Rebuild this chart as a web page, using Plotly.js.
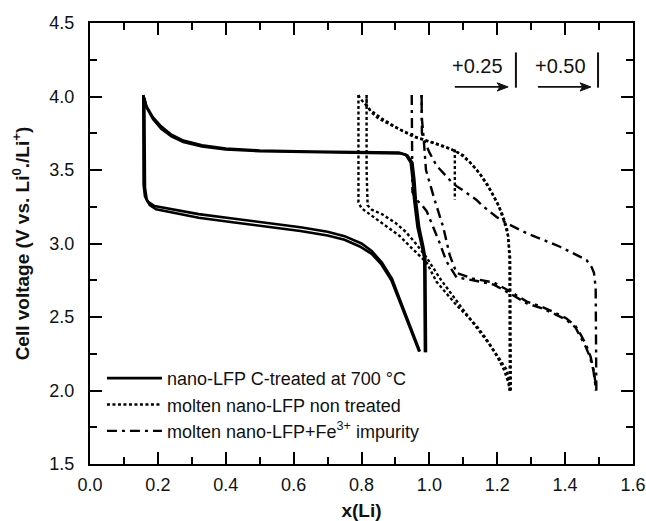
<!DOCTYPE html>
<html>
<head>
<meta charset="utf-8">
<script src="https://cdn.plot.ly/plotly-3.0.1.min.js"></script>
<style>html,body{margin:0;padding:0;background:#fff;}#chart{width:646px;height:521px;}</style>
</head>
<body>
<div id="chart"></div>
<script>
// ---- Data ----
// nano-LFP C-treated at 700 °C : two cycles (discharge / charge), segments split by null
var lfpX = [0.157,0.157,0.158,0.162,0.170,0.190,0.250,0.320,0.420,0.520,0.620,0.700,0.750,0.800,0.830,0.860,0.890,0.913,0.935,0.953,0.965,0.972,
            null,
            0.987,0.987,0.985,0.978,0.965,0.955,0.951,0.945,0.930,0.910,0.800,0.650,0.500,0.400,0.330,0.275,0.240,0.210,0.185,0.165,0.157,
            null,
            0.160,0.160,0.162,0.167,0.176,0.195,0.250,0.320,0.420,0.520,0.620,0.700,0.750,0.795,0.830,0.858,0.888,0.910,0.932,0.950,0.962,0.970,
            null,
            0.990,0.990,0.988,0.982,0.970,0.960,0.956,0.950,0.935,0.915,0.800,0.650,0.500,0.400,0.330,0.275,0.240,0.210,0.186,0.167,0.160];
var lfpY = [4.01,3.60,3.40,3.32,3.285,3.255,3.23,3.20,3.17,3.14,3.11,3.08,3.05,3.00,2.95,2.87,2.76,2.62,2.49,2.37,2.30,2.265,
            null,
            2.26,2.80,2.90,2.98,3.11,3.30,3.43,3.55,3.605,3.618,3.620,3.626,3.633,3.646,3.668,3.700,3.740,3.795,3.860,3.940,4.01,
            null,
            3.99,3.60,3.38,3.30,3.262,3.232,3.205,3.175,3.145,3.115,3.085,3.055,3.025,2.98,2.93,2.86,2.75,2.62,2.49,2.37,2.30,2.265,
            null,
            2.26,2.80,2.90,2.98,3.11,3.30,3.43,3.55,3.60,3.612,3.615,3.620,3.628,3.640,3.660,3.690,3.728,3.780,3.845,3.925,3.99];

// molten nano-LFP non treated (curves shifted by +0.25)
var moltenX = [0.791,0.791,0.791,0.800,0.830,0.870,0.913,0.943,0.970,0.992,1.021,1.050,1.080,1.110,1.139,1.165,1.188,1.210,1.228,1.235,1.237,
               null,
               0.815,0.815,0.818,0.830,0.860,0.900,0.930,0.960,0.990,1.010,1.035,1.080,1.115,1.145,1.175,1.200,1.220,1.232,1.237,
               null,
               1.237,1.237,1.236,1.232,1.228,1.215,1.200,1.169,1.140,1.120,1.090,1.070,1.030,0.990,0.953,0.894,0.850,0.830,0.815,0.815,
               null,
               1.240,1.240,1.238,1.232,1.220,1.205,1.180,1.150,1.125,1.100,1.075,1.040,1.000,0.960,0.910,0.860,0.825,0.805,0.795,0.791,
               null,
               1.075,1.075];
var moltenY = [4.01,3.50,3.28,3.24,3.19,3.12,3.05,2.98,2.92,2.87,2.74,2.66,2.58,2.51,2.44,2.36,2.28,2.21,2.14,2.06,2.00,
               null,
               4.01,3.50,3.26,3.23,3.20,3.14,3.08,3.00,2.91,2.84,2.75,2.61,2.50,2.41,2.32,2.23,2.14,2.06,2.00,
               null,
               2.00,2.50,2.90,3.05,3.11,3.20,3.28,3.41,3.50,3.55,3.61,3.636,3.67,3.70,3.727,3.795,3.850,3.890,3.940,4.01,
               null,
               2.00,2.50,2.90,3.05,3.15,3.25,3.36,3.47,3.54,3.60,3.63,3.665,3.695,3.725,3.780,3.850,3.910,3.960,3.990,4.01,
               null,
               3.64,3.30];

// molten nano-LFP + Fe3+ impurity (curves shifted by +0.50)
var feX = [0.948,0.948,0.950,0.960,0.975,0.992,1.010,1.031,1.050,1.080,1.140,1.190,1.237,1.287,1.330,1.365,1.404,1.430,1.444,1.460,1.473,1.483,1.488,1.490,
           null,
           1.492,1.492,1.490,1.485,1.478,1.463,1.420,1.385,1.330,1.287,1.228,1.198,1.160,1.139,1.100,1.080,1.061,1.040,1.021,1.000,0.985,0.978,0.977,
           null,
           0.977,0.978,0.983,0.990,1.015,1.041,1.060,1.080,1.130,1.190,1.237,1.287,1.330,1.365,1.404,1.430,1.446,1.462,1.475,1.484,1.489,1.491];
var feY = [4.01,3.60,3.35,3.30,3.27,3.22,3.12,3.00,2.88,2.77,2.745,2.72,2.66,2.593,2.56,2.525,2.48,2.43,2.37,2.30,2.23,2.14,2.06,2.00,
           null,
           2.00,2.40,2.70,2.80,2.84,2.888,2.94,2.978,3.03,3.07,3.137,3.18,3.25,3.296,3.36,3.39,3.43,3.48,3.53,3.62,3.70,3.75,4.01,
           null,
           4.01,3.85,3.72,3.50,3.30,3.11,2.92,2.80,2.76,2.735,2.675,2.605,2.57,2.535,2.49,2.44,2.38,2.31,2.23,2.14,2.06,2.00];

var seriesNames = ["nano-LFP C-treated at 700 °C",
                   "molten nano-LFP non treated",
                   "molten nano-LFP+Fe<sup>3+</sup> impurity"];

// shift markers drawn in the upper right corner
var shiftLabels = ["+0.25", "+0.50"];
var shiftStart = [1.075, 1.320];   // arrow tails
var shiftEnd = [1.232, 1.476];     // arrow heads
var shiftBar = [1.255, 1.497];     // vertical bars

// ---- Chart ----
var FONT = "Liberation Sans, Arial, sans-serif";
var traces = [
  {x: lfpX, y: lfpY, name: seriesNames[0], mode: "lines", connectgaps: false,
   line: {color: "#000", width: 2.6}},
  {x: moltenX, y: moltenY, name: seriesNames[1], mode: "lines", connectgaps: false,
   line: {color: "#000", width: 2.4, dash: "3px,2.5px"}},
  {x: feX, y: feY, name: seriesNames[2], mode: "lines", connectgaps: false,
   line: {color: "#000", width: 2.4, dash: "10px,5px,3px,5px"}}
];

var axisCommon = {
  showline: true, linecolor: "#000", linewidth: 2, mirror: "ticks",
  ticks: "inside", ticklen: 12, tickwidth: 2, tickcolor: "#000",
  showgrid: false, zeroline: false, tickformat: ".1f",
  tickfont: {family: FONT, size: 18, color: "#111"}
};

var annotations = [], shapes = [];
var arrowY = 4.065, textY = 4.21;
for (var i = 0; i < shiftLabels.length; i++) {
  annotations.push({x: (shiftStart[i] + shiftEnd[i]) / 2 - 0.013, y: textY, xref: "x", yref: "y",
    text: shiftLabels[i], showarrow: false, font: {family: FONT, size: 20, color: "#111"}});
  shapes.push({type: "line", xref: "x", yref: "y", x0: shiftStart[i], x1: shiftEnd[i] - 0.01,
    y0: arrowY, y1: arrowY, line: {color: "#111", width: 1.8}});
  var e = shiftEnd[i];
  shapes.push({type: "path", xref: "x", yref: "y",
    path: "M" + e + "," + arrowY + " L" + (e - 0.032) + "," + (arrowY + 0.028) +
          " L" + (e - 0.024) + "," + arrowY + " L" + (e - 0.032) + "," + (arrowY - 0.028) + " Z",
    fillcolor: "#111", line: {color: "#111", width: 1}});
  shapes.push({type: "line", xref: "x", yref: "y", x0: shiftBar[i], x1: shiftBar[i],
    y0: 4.06, y1: 4.30, line: {color: "#111", width: 2}});
}

var layout = {
  width: 646, height: 521,
  margin: {l: 90, r: 13, t: 23, b: 57},
  paper_bgcolor: "#fff", plot_bgcolor: "#fff",
  showlegend: true,
  legend: {x: 0.022, y: 0.236, xanchor: "left", yanchor: "top",
           bgcolor: "rgba(0,0,0,0)", borderwidth: 0, itemwidth: 55,
           font: {family: FONT, size: 18, color: "#111"}, tracegroupgap: 0},
  xaxis: Object.assign({}, axisCommon, {
    range: [0, 1.6], dtick: 0.2, tick0: 0, ticklabelstandoff: 3,
    minor: {ticks: "inside", ticklen: 7, tickwidth: 2, tickcolor: "#000", dtick: 0.1, showgrid: false},
    title: {text: "<b>x(Li)</b>", font: {family: FONT, size: 19, color: "#111"}, standoff: 10}
  }),
  yaxis: Object.assign({}, axisCommon, {
    range: [1.5, 4.5], dtick: 0.5, tick0: 1.5, ticklabelstandoff: 10,
    minor: {ticks: "inside", ticklen: 7, tickwidth: 2, tickcolor: "#000", dtick: 0.25, showgrid: false},
    title: {text: "<b>Cell voltage (V vs. Li<sup>0</sup>./Li<sup>+</sup>)</b>", font: {family: FONT, size: 19, color: "#111"}, standoff: 15}
  }),
  annotations: annotations,
  shapes: shapes
};

Plotly.newPlot("chart", traces, layout, {displayModeBar: false, staticPlot: true});
</script>
</body>
</html>
